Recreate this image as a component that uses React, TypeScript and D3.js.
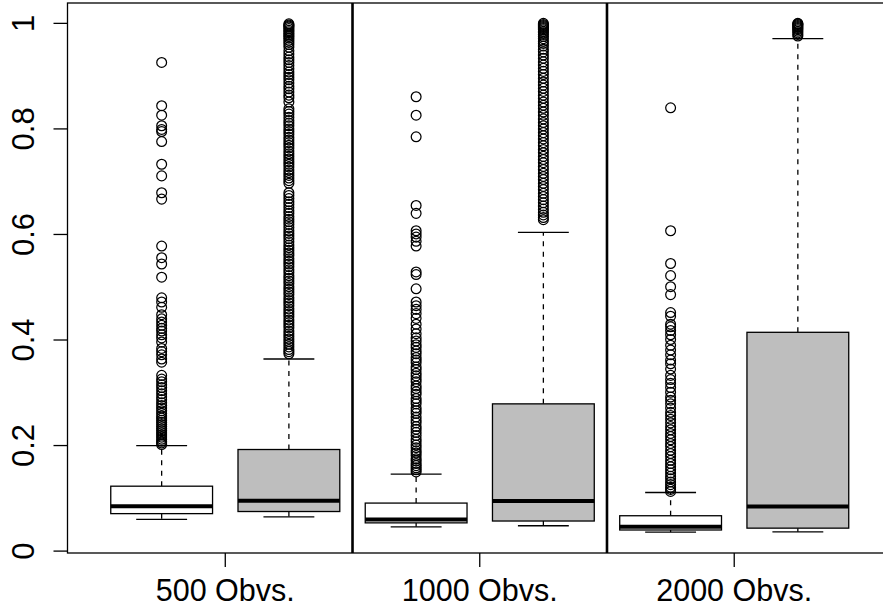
import React, { useEffect, useRef } from 'react';
import * as d3 from 'd3';

// group labels on the x axis (one per pair of boxes)
const groupLabels = ['500 Obvs.', '1000 Obvs.', '2000 Obvs.'];
const yTicks = [0, 0.2, 0.4, 0.6, 0.8, 1];

// five-number summaries, boxes 1..6 (white, grey per group)
const whiskerLo = [0.060, 0.065, 0.046, 0.048, 0.036, 0.0365];
const q1 = [0.071, 0.075, 0.0535, 0.057, 0.040, 0.0435];
const medians = [0.085, 0.0955, 0.060, 0.095, 0.046, 0.0845];
const q3 = [0.123, 0.1925, 0.091, 0.279, 0.067, 0.4146];
const whiskerHi = [0.200, 0.364, 0.146, 0.604, 0.111, 0.971];
const boxFill = ['#ffffff', '#bebebe', '#ffffff', '#bebebe', '#ffffff', '#bebebe'];

const out500a = [0.926, 0.844, 0.826, 0.806, 0.799, 0.795, 0.776, 0.733, 0.711, 0.679, 0.667,
  0.578, 0.556, 0.544, 0.519, 0.480, 0.472, 0.462, 0.448, 0.440, 0.434, 0.428, 0.422, 0.417,
  0.410, 0.404, 0.396, 0.384, 0.378, 0.372, 0.364, 0.358, 0.333, 0.326, 0.321, 0.315, 0.310,
  0.304, 0.298, 0.292, 0.287, 0.281, 0.276, 0.271, 0.266, 0.261, 0.256, 0.252, 0.248, 0.244,
  0.240, 0.236, 0.232, 0.228, 0.224, 0.220, 0.216, 0.212, 0.208, 0.205, 0.202];
const out500b = [0.999, 0.997, 0.995, 0.993, 0.990, 0.987, 0.984, 0.981, 0.978, 0.975, 0.972,
  0.968, 0.964, 0.960, 0.955, 0.948, 0.942, 0.936, 0.931, 0.926, 0.920, 0.914, 0.908, 0.903,
  0.898, 0.893, 0.887, 0.881, 0.876, 0.870, 0.864, 0.859, 0.851, 0.838, 0.833, 0.828, 0.822,
  0.816, 0.811, 0.806, 0.800, 0.795, 0.790, 0.784, 0.779, 0.774, 0.769, 0.764, 0.758, 0.753,
  0.748, 0.743, 0.738, 0.733, 0.728, 0.722, 0.717, 0.712, 0.707, 0.702, 0.697, 0.679, 0.674,
  0.668, 0.662, 0.657, 0.651, 0.645, 0.640, 0.634, 0.629, 0.624, 0.619, 0.613, 0.607, 0.602,
  0.597, 0.592, 0.586, 0.580, 0.575, 0.570, 0.565, 0.560, 0.554, 0.549, 0.544, 0.539, 0.533,
  0.528, 0.522, 0.517, 0.512, 0.507, 0.501, 0.496, 0.491, 0.486, 0.480, 0.475, 0.470, 0.465,
  0.459, 0.454, 0.449, 0.444, 0.438, 0.433, 0.428, 0.423, 0.417, 0.412, 0.407, 0.402, 0.397,
  0.392, 0.387, 0.382, 0.378, 0.374];
const out1000a = [0.861, 0.826, 0.785, 0.655, 0.640, 0.607, 0.601, 0.595, 0.587, 0.578, 0.529,
  0.524, 0.497, 0.472, 0.465, 0.458, 0.450, 0.441, 0.430, 0.421, 0.412, 0.404, 0.398, 0.391,
  0.386, 0.379, 0.374, 0.367, 0.362, 0.357, 0.349, 0.344, 0.337, 0.332, 0.326, 0.321, 0.313,
  0.308, 0.302, 0.297, 0.289, 0.284, 0.279, 0.271, 0.266, 0.261, 0.254, 0.248, 0.243, 0.236,
  0.231, 0.225, 0.219, 0.212, 0.207, 0.201, 0.196, 0.190, 0.186, 0.181, 0.175, 0.171, 0.166,
  0.162, 0.158, 0.154, 0.150];
const out1000b = [1.000, 0.998, 0.996, 0.994, 0.992, 0.990, 0.988, 0.985, 0.982, 0.979, 0.975,
  0.971, 0.966, 0.962, 0.957, 0.951, 0.946, 0.940, 0.934, 0.927, 0.921, 0.915, 0.909, 0.903,
  0.896, 0.889, 0.883, 0.877, 0.871, 0.864, 0.858, 0.851, 0.845, 0.839, 0.832, 0.826, 0.819,
  0.812, 0.806, 0.800, 0.793, 0.787, 0.781, 0.774, 0.768, 0.761, 0.755, 0.748, 0.742, 0.736,
  0.729, 0.723, 0.716, 0.710, 0.704, 0.697, 0.691, 0.685, 0.678, 0.672, 0.666, 0.660, 0.654,
  0.648, 0.642, 0.637, 0.632, 0.628];
const out2000a = [0.840, 0.607, 0.545, 0.522, 0.501, 0.486, 0.452, 0.445, 0.430, 0.425, 0.418,
  0.410, 0.401, 0.390, 0.381, 0.372, 0.362, 0.355, 0.345, 0.333, 0.325, 0.318, 0.310, 0.301,
  0.292, 0.286, 0.279, 0.271, 0.263, 0.257, 0.250, 0.243, 0.236, 0.230, 0.223, 0.217, 0.211,
  0.204, 0.198, 0.191, 0.185, 0.179, 0.172, 0.166, 0.160, 0.154, 0.148, 0.142, 0.137, 0.131,
  0.126, 0.121, 0.117, 0.113];
const out2000b = [1.000, 0.999, 0.998, 0.996, 0.994, 0.992, 0.990, 0.988, 0.985, 0.982, 0.979, 0.976];
const outliers = [out500a, out500b, out1000a, out1000b, out2000a, out2000b];

const W = 883;
const H = 608;

export default function App() {
  const ref = useRef(null);

  useEffect(() => {
    const svg = d3.select(ref.current);
    svg.selectAll('*').remove();

    const n = medians.length;
    const x = d3.scaleLinear().domain([0.26, n + 0.74]).range([67.5, 892]);
    const y = d3.scaleLinear().domain([-0.0036, 1.0386]).range([553, 3]);
    const unit = x(2) - x(1);
    const boxW = unit * 0.8;
    const capW = boxW * 0.5;
    const font = 'Liberation Sans, Arial, Helvetica, sans-serif';

    svg.append('defs').append('clipPath').attr('id', 'plotclip')
      .append('rect').attr('x', 67.5).attr('y', 3).attr('width', 892 - 67.5).attr('height', 550);

    const plot = svg.append('g').attr('clip-path', 'url(#plotclip)');

    d3.range(n).forEach(i => {
      const cx = x(i + 1);
      const g = plot.append('g');
      // whiskers
      g.append('line').attr('x1', cx).attr('x2', cx).attr('y1', y(q3[i])).attr('y2', y(whiskerHi[i]))
        .attr('stroke', '#000').attr('stroke-width', 1.3).attr('stroke-dasharray', '5,5.5');
      g.append('line').attr('x1', cx).attr('x2', cx).attr('y1', y(q1[i])).attr('y2', y(whiskerLo[i]))
        .attr('stroke', '#000').attr('stroke-width', 1.3).attr('stroke-dasharray', '5,5.5');
      [whiskerHi[i], whiskerLo[i]].forEach(v => {
        g.append('line').attr('x1', cx - capW / 2).attr('x2', cx + capW / 2).attr('y1', y(v)).attr('y2', y(v))
          .attr('stroke', '#000').attr('stroke-width', 1.3);
      });
      g.append('rect').attr('x', cx - boxW / 2).attr('width', boxW)
        .attr('y', y(q3[i])).attr('height', y(q1[i]) - y(q3[i]))
        .attr('fill', boxFill[i]).attr('stroke', '#000').attr('stroke-width', 1.3);
      g.append('line').attr('x1', cx - boxW / 2).attr('x2', cx + boxW / 2)
        .attr('y1', y(medians[i])).attr('y2', y(medians[i]))
        .attr('stroke', '#000').attr('stroke-width', 4);
      g.selectAll('circle.out').data(outliers[i]).enter().append('circle')
        .attr('class', 'out').attr('cx', cx).attr('cy', d => y(d)).attr('r', 4.9)
        .attr('fill', 'none').attr('stroke', '#000').attr('stroke-width', 1.25);
    });

    // group separators
    [2.5, 4.5].forEach(v => {
      plot.append('line').attr('x1', x(v)).attr('x2', x(v)).attr('y1', 3).attr('y2', 553)
        .attr('stroke', '#000').attr('stroke-width', 2.6);
    });

    // frame
    svg.append('rect').attr('x', 67.5).attr('y', 3).attr('width', 892 - 67.5).attr('height', 550)
      .attr('fill', 'none').attr('stroke', '#000').attr('stroke-width', 1.3);

    // y axis
    const yAxis = svg.append('g');
    yAxis.selectAll('line.tick').data(yTicks).enter().append('line')
      .attr('x1', 53.5).attr('x2', 67.5).attr('y1', d => y(d)).attr('y2', d => y(d))
      .attr('stroke', '#000').attr('stroke-width', 1.3);
    yAxis.selectAll('text').data(yTicks).enter().append('text')
      .attr('transform', d => `translate(34,${y(d)}) rotate(-90)`)
      .attr('text-anchor', 'middle')
      .attr('font-family', font).attr('font-size', 31)
      .text(d => String(d));

    // x axis
    const xTickVals = [1.5, 3.5, 5.5];
    const xAxis = svg.append('g');
    xAxis.selectAll('line').data(xTickVals).enter().append('line')
      .attr('x1', d => x(d)).attr('x2', d => x(d)).attr('y1', 553).attr('y2', 567)
      .attr('stroke', '#000').attr('stroke-width', 1.3);
    xAxis.selectAll('text').data(groupLabels).enter().append('text')
      .attr('x', (d, i) => x(xTickVals[i])).attr('y', 601)
      .attr('text-anchor', 'middle')
      .attr('font-family', font).attr('font-size', 30.5)
      .text(d => d);
  }, []);

  return (
    <svg ref={ref} width={W} height={H}
      style={{ position: 'absolute', left: 0, top: 0, background: '#fff' }} />
  );
}
